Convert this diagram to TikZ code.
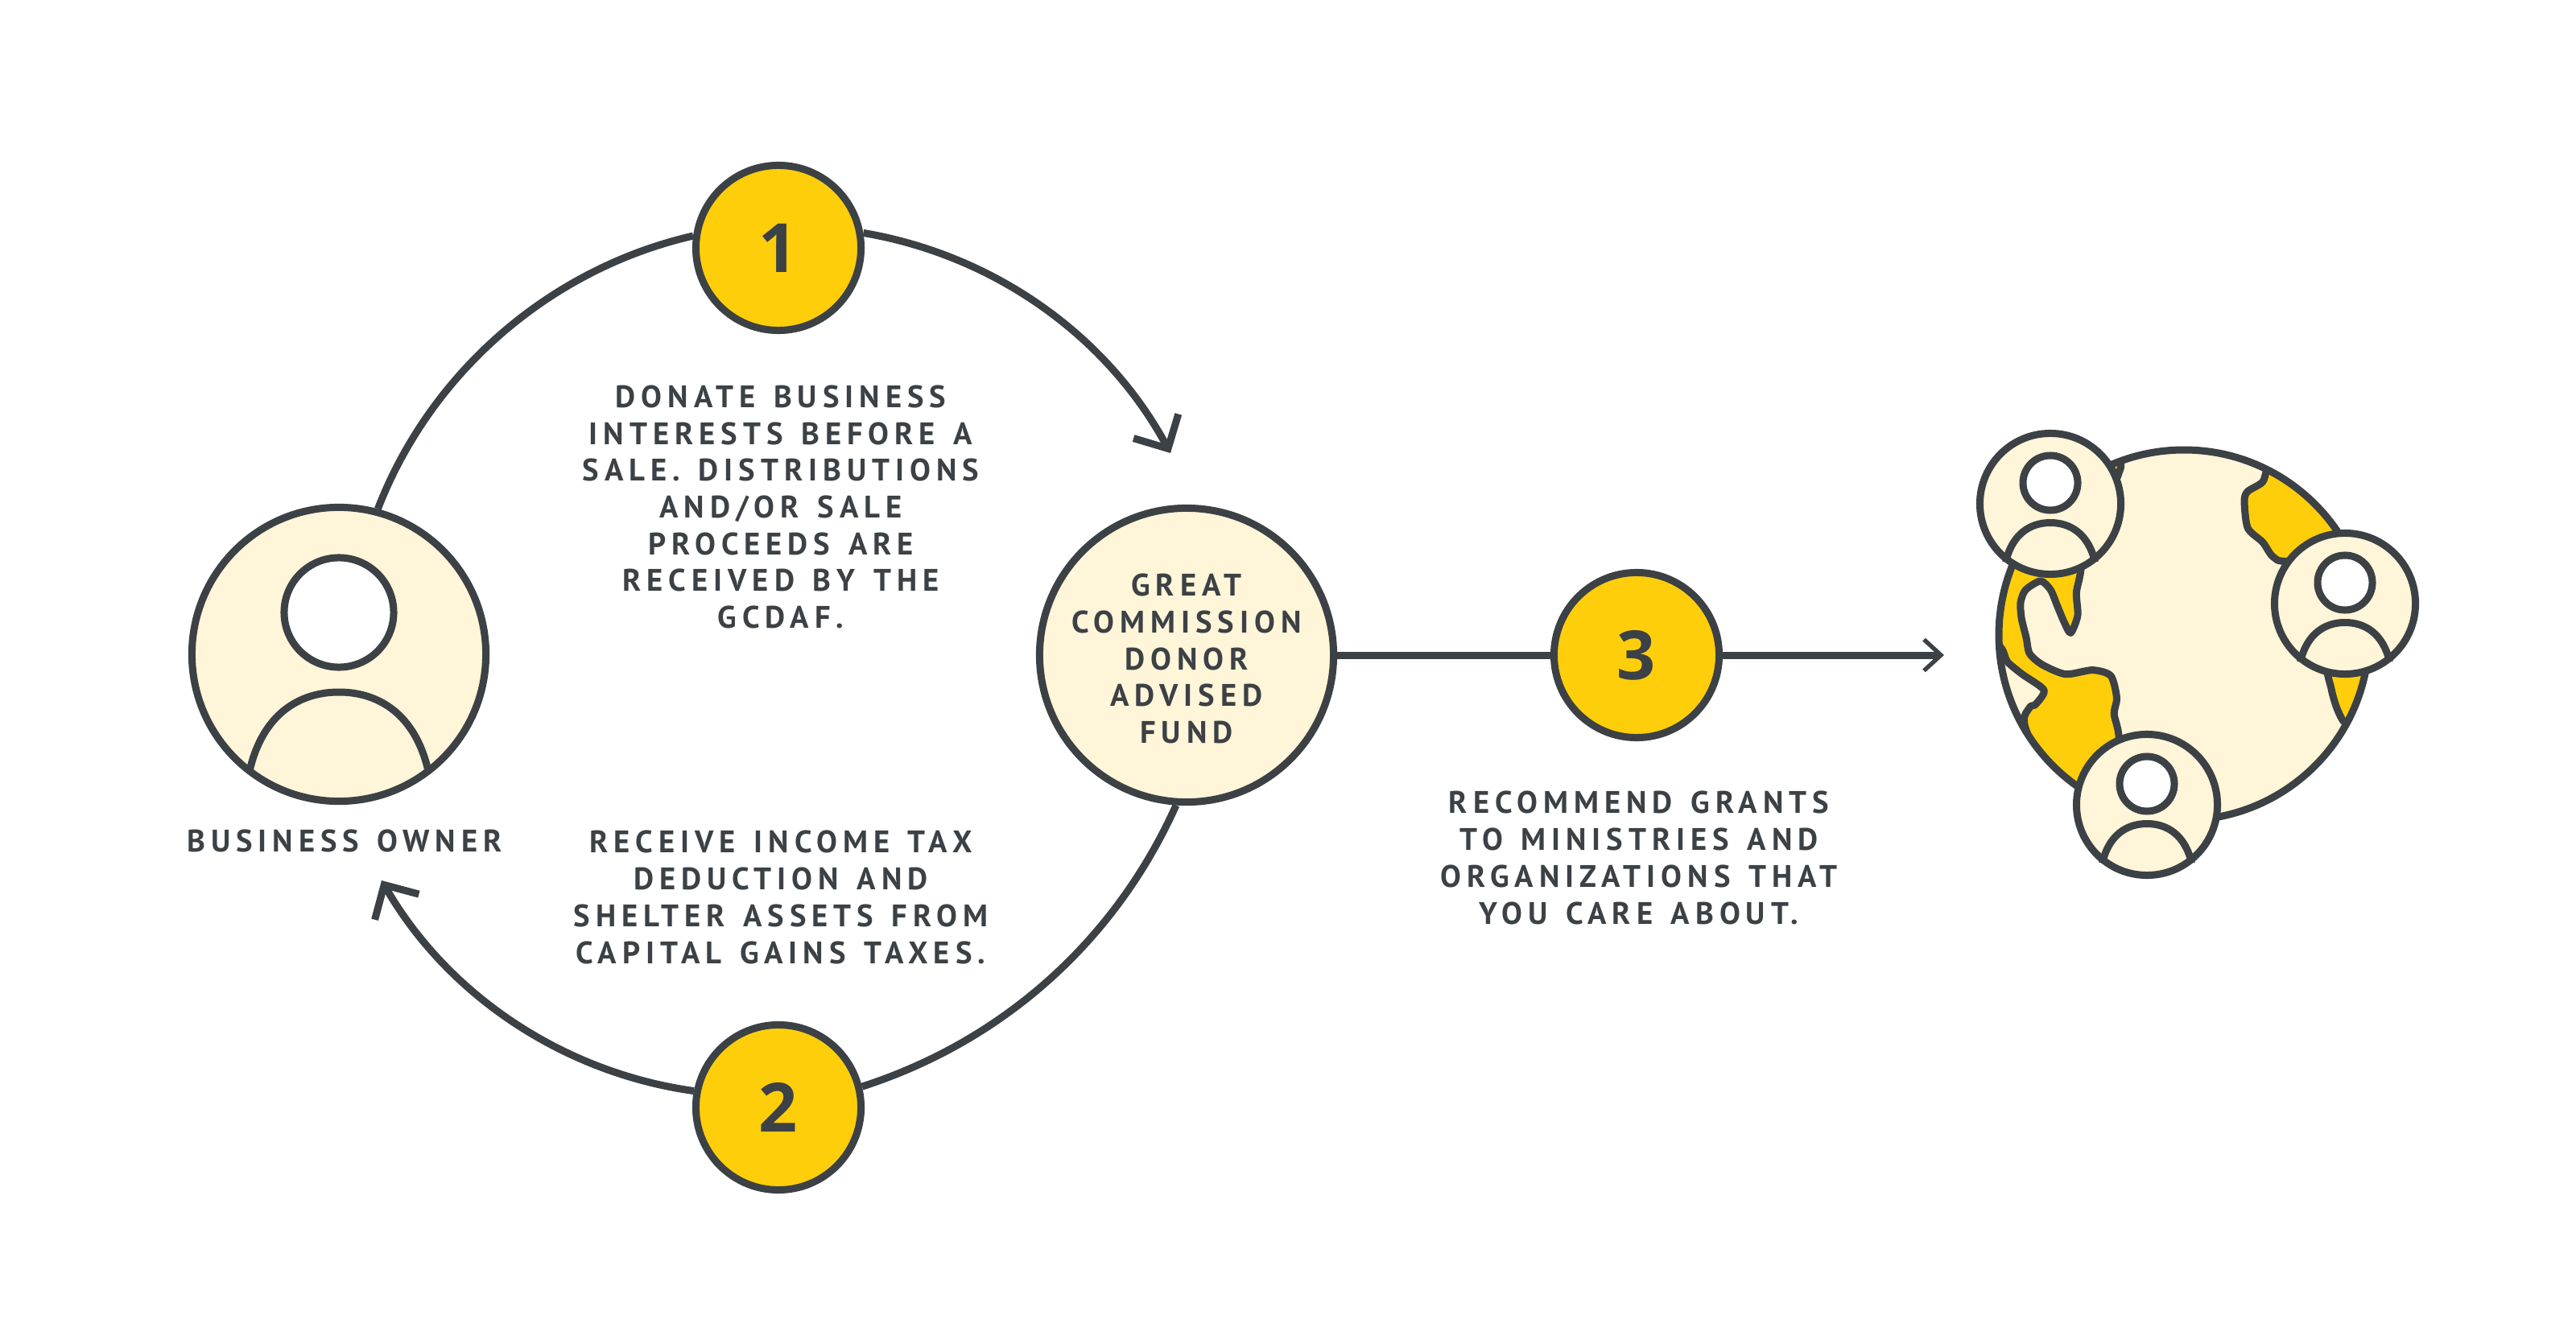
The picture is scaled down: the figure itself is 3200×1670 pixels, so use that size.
\documentclass[tikz,border=0pt]{standalone}
\usepackage{fontspec}
\setmainfont{Open Sans}
\newfontfamily\capfont[LetterSpace=18,WordSpace=1.35]{PT Sans}
\usetikzlibrary{arrows.meta,positioning,calc}
\definecolor{inkgrey}{HTML}{3C4145}
\definecolor{sunyellow}{HTML}{FFCE0B}
\definecolor{paleyellow}{HTML}{FFF5D9}

% head and shoulders inside a round node
\newcommand{\personfig}[2]{%
  \begin{scope}[shift={(#1)},scale=#2,transform shape]
    \node[headdot] (#1head) at (0,-52) {};
    \draw[outline] (-111,145) .. controls (-95,75) and (-50,47) .. (0,47)
      .. controls (50,47) and (95,75) .. (111,145);
  \end{scope}}

\begin{document}
\begin{tikzpicture}[x=0.01cm,y=-0.01cm,
    outline/.style={draw=inkgrey, line width=0.09cm},
    bigdot/.style={circle, outline, fill=paleyellow, minimum size=3.65cm, inner sep=0pt},
    smalldot/.style={circle, outline, fill=paleyellow, minimum size=1.75cm, inner sep=0pt},
    headdot/.style={circle, outline, fill=white, minimum size=1.36cm, inner sep=0pt},
    numdot/.style={circle, outline, fill=sunyellow, minimum size=2.05cm, inner sep=0pt, text=inkgrey, font=\fontsize{24}{24}\selectfont\bfseries},
    caption/.style={align=center, text=inkgrey, font=\fontsize{11}{13}\selectfont\capfont\bfseries},
    flow/.style={outline, -{Straight Barb[length=9pt,width=18pt]}},
    shortflow/.style={outline, -{Straight Barb[length=6pt,width=11pt,line width=1.5pt]}},
    coast/.style={outline, fill=sunyellow, line join=round}
]
\useasboundingbox (0,0) rectangle (3200,1670);

% Cycle
\node[bigdot] (owner) at (421,813) {};
\personfig{owner}{1}
\node[bigdot, caption] (fund) at (1474,814) {\rule{0pt}{10.5pt}GREAT\\COMMISSION\\DONOR\\ADVISED\\FUND};
\node[numdot] (one) at (967,308) {1};
\node[numdot] (two) at (967,1376) {2};
\node[numdot] (three) at (2033,814) {3};
\coordinate (tipone) at (1454,563);
\coordinate (tiptwo) at (474,1094);
\coordinate (tipthree) at (2415,814);

\draw[outline] (owner.75) to[bend left=28,looseness=0.9] (one.172);
\draw[flow] (one.10) to[bend left=26,looseness=0.9] (tipone);
\draw[outline] (fund.-94) to[bend left=24,looseness=0.9] (two.14);
\draw[flow] (two.169) to[bend left=26,looseness=0.9] (tiptwo);
\draw[outline] (fund.east) -- (three.west);
\draw[shortflow] (three.east) -- (tipthree);

% Labels
\node[caption] (ownerlabel) at (428,1045) {BUSINESS OWNER};
\node[caption] (donate) at (970,630) {DONATE BUSINESS\\INTERESTS BEFORE A\\SALE. DISTRIBUTIONS\\AND/OR SALE\\PROCEEDS ARE\\RECEIVED BY THE\\GCDAF.};
\node[caption] (receive) at (970,1115) {RECEIVE INCOME TAX\\DEDUCTION AND\\SHELTER ASSETS FROM\\CAPITAL GAINS TAXES.};
\node[caption] (recommend) at (2036,1066) {RECOMMEND GRANTS\\TO MINISTRIES AND\\ORGANIZATIONS THAT\\YOU CARE ABOUT.};

% Globe
\fill[paleyellow] (2713,789) circle (230);
\begin{scope}
  \clip (2713,789) circle (230);
  \begin{scope}[shift={(2400,500)},xscale=0.415,yscale=0.395]
    \draw[coast] plot[smooth cycle,tension=0.45] coordinates {(300,480) (440,500) (432,600) (436,670) (415,725)
      (395,690) (375,640) (355,590) (325,562) (280,590) (265,630) (268,680) (282,740) (292,790)
      (330,825) (400,855) (480,842) (535,860) (553,930) (545,980) (560,1060) (560,1300) (400,1300)
      (280,1025) (292,960) (310,950) (335,905) (270,855) (225,815) (205,770) (120,700) (150,500)};
    \draw[coast] plot[smooth cycle,tension=0.45] coordinates {(1010,200) (990,250) (945,280) (935,310) (945,395)
      (990,440) (1020,485) (1065,500) (1300,480) (1300,250) (1100,130)};
    \draw[coast] plot[smooth cycle,tension=0.45] coordinates {(1190,820) (1195,900) (1215,970) (1245,1015)
      (1340,1030) (1340,800)};
    \draw[coast] (565,180) -- (565,205) -- (555,235) -- (530,200) -- cycle;
  \end{scope}
\end{scope}
\draw[outline] (2713,789) circle (230);
\foreach \name/\px/\py in {personone/2547/626,persontwo/2913/750,personthree/2667/1000} {
  \node[smalldot] (\name) at (\px,\py) {};
  \personfig{\name}{0.5}
}
\end{tikzpicture}
\end{document}
